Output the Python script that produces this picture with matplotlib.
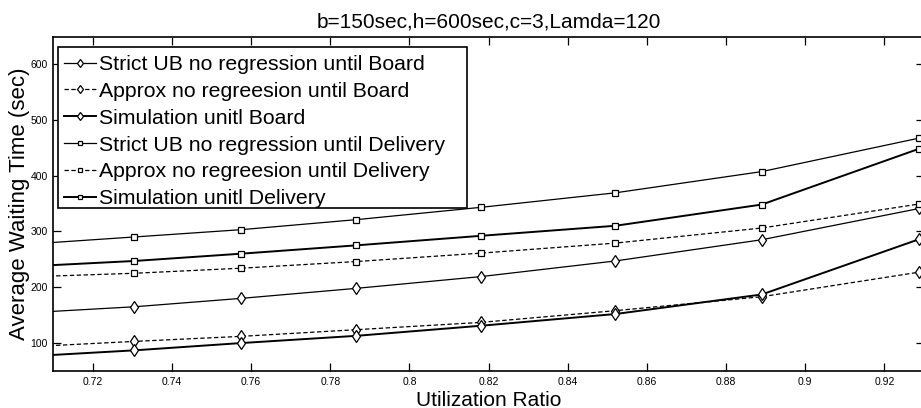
import matplotlib
matplotlib.use("Agg")
import matplotlib.pyplot as plt
from matplotlib.patches import Rectangle

plt.rcParams['font.family'] = ['Liberation Sans', 'DejaVu Sans']

# ---- data ----
util = [0.7055, 0.7305, 0.7574, 0.7866, 0.818, 0.852, 0.889, 0.9288]
strict_board = [155, 165, 180, 198, 219, 247, 285, 341]
approx_board = [94, 103, 112, 124, 137, 158, 183, 227]
sim_board = [77, 87, 100, 113, 131, 152, 187, 286]
strict_deliv = [278, 290, 303, 321, 343, 369, 407, 467]
approx_deliv = [219, 225, 234, 246, 261, 279, 306, 349]
sim_deliv = [238, 247, 260, 275, 292, 310, 348, 448]

labels = ["Strict UB no regression until Board",
          "Approx no regreesion until Board",
          "Simulation unitl Board",
          "Strict UB no regression until Delivery",
          "Approx no regreesion until Delivery",
          "Simulation unitl Delivery"]
title = "b=150sec,h=600sec,c=3,Lamda=120"
xlabel = "Utilization Ratio"
ylabel = "Average Waiting Time (sec)"
xticks = [0.72, 0.74, 0.76, 0.78, 0.8, 0.82, 0.84, 0.86, 0.88, 0.9, 0.92]
xticklabels = ["0.72", "0.74", "0.76", "0.78", "0.8", "0.82", "0.84", "0.86", "0.88", "0.9", "0.92"]
yticks = [100, 200, 300, 400, 500, 600]

fig = plt.figure(figsize=(9.21, 4.08), dpi=100)
ax = fig.add_axes([53.3 / 921, 1 - 371 / 408, (924 - 53.3) / 921, 334 / 408])

series = [
    (strict_board, '-', 'd', 0.9, 6),
    (approx_board, '--', 'd', 0.9, 6),
    (sim_board, '-', 'd', 1.4, 6),
    (strict_deliv, '-', 's', 0.9, 4.7),
    (approx_deliv, '--', 's', 0.9, 4.7),
    (sim_deliv, '-', 's', 1.4, 4.7),
]
for (vals, ls, mk, lw, ms), lab in zip(series, labels):
    kw = dict(dashes=(3.5, 2)) if ls == '--' else {}
    ax.plot(util, vals, linestyle=ls, marker=mk, color='black', lw=lw,
            markersize=ms, markerfacecolor='white', markeredgecolor='black',
            markeredgewidth=0.9, label=lab, clip_on=True, **kw)

ax.set_xlim(0.71, 0.93)
ax.set_ylim(50, 648)
ax.set_xticks(xticks)
ax.set_xticklabels(xticklabels)
ax.set_yticks(yticks)
ax.tick_params(direction='in', length=6, width=0.9, labelsize=7.5,
               top=True, right=True, pad=4)
for s in ax.spines.values():
    s.set_linewidth(1.2)

ax.set_title(title, fontsize=15, pad=7)
ax.set_xlabel(xlabel, fontsize=15, labelpad=3)
ax.set_ylabel(ylabel, fontsize=16, labelpad=0)

# legend frame (MATLAB-style, wider on the right)
aw = 870.7
ah = 334.0
frame = Rectangle(((58 - 53.3) / aw, (371 - 208.3) / ah),
                  (466.7 - 58) / aw, (208.3 - 46.7) / ah,
                  transform=ax.transAxes, facecolor='white',
                  edgecolor='black', lw=1.2, zorder=4.5)
ax.add_patch(frame)

leg = ax.legend(loc='upper left', bbox_to_anchor=(0.0058, 0.962),
                borderaxespad=0, fontsize=15.3, handlelength=1.5,
                handletextpad=0.15, labelspacing=0.37, borderpad=0.25,
                frameon=False, markerscale=0.75)
leg.set_zorder(5)

fig.savefig("out.png", dpi=100)
